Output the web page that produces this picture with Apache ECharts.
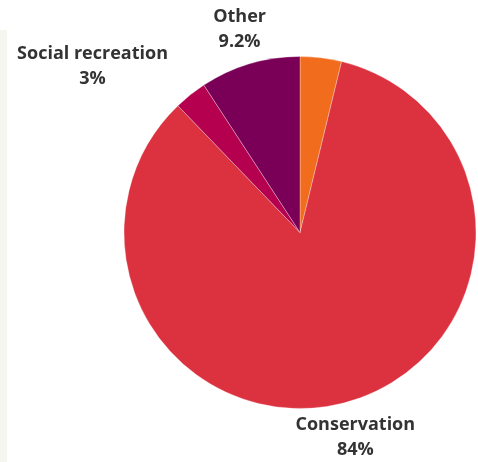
<!DOCTYPE html>
<html>
<head>
<meta charset="utf-8">
<title>Land use</title>
<script src="https://cdn.jsdelivr.net/npm/echarts@6/dist/echarts.min.js"></script>
<style>
  html, body { margin: 0; padding: 0; background: #ffffff; }
  #chart { width: 478px; height: 462px; }
</style>
</head>
<body>
<div id="chart"></div>
<script>
// Share of use, clockwise from 12 o'clock
const categories = ['Education', 'Conservation', 'Social recreation', 'Other'];
const shares = [3.8, 84, 3, 9.2];
const colors = ['#f26c1e', '#dc313f', '#b4004e', '#7a0057'];
const showLabel = [false, true, true, true];
// labels centred on their anchor, except the one that hugs the pie from the left
const labelHug = [false, false, true, false];

const chart = echarts.init(document.getElementById('chart'), null, { renderer: 'canvas' });

const data = categories.map((name, i) => ({
  name: name,
  value: shares[i],
  itemStyle: { color: colors[i] },
  label: { show: showLabel[i] }
}));

chart.setOption({
  animation: false,
  graphic: [{
    type: 'rect',
    left: 0,
    top: 30,
    shape: { width: 7, height: 432 },
    style: { fill: '#f6f6f1' },
    silent: true
  }],
  series: [{
    type: 'pie',
    center: [300, 232.5],
    radius: [0, 176],
    startAngle: 90,
    clockwise: true,
    avoidLabelOverlap: false,
    data: data,
    itemStyle: { borderColor: 'rgba(255,255,255,0.6)', borderWidth: 0.5 },
    label: {
      position: 'outside',
      formatter: '{b}\n{c}%',
      fontFamily: '"Open Sans", sans-serif',
      fontWeight: 'bold',
      fontSize: 18,
      lineHeight: 25,
      color: '#333333',
      distanceToLabelLine: 0
    },
    labelLine: { show: false, length: 36, length2: 0 },
    labelLayout: function (params) {
      // centre every line; a hugging label keeps its right edge on the anchor
      const shift = labelHug[params.dataIndex] ? -params.labelRect.width / 2 : 0;
      return { align: 'center', dx: shift };
    }
  }]
});
</script>
</body>
</html>
